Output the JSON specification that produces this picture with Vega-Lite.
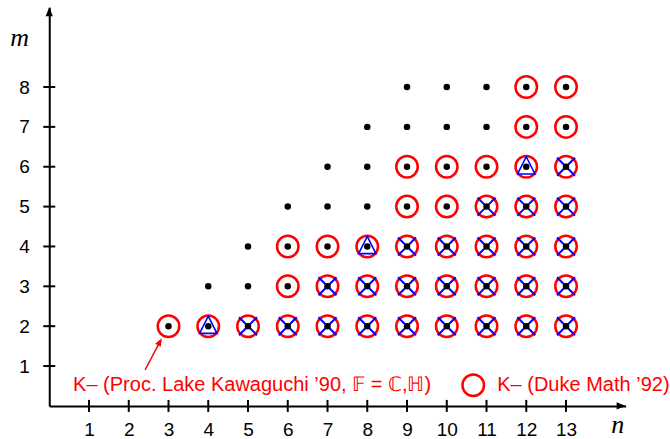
{
  "$schema": "https://vega.github.io/schema/vega-lite/v6.json",
  "autosize": {"type": "none"},
  "padding": {"left": 49.25, "top": 7.3, "right": 44.35, "bottom": 33.1},
  "width": 576.4,
  "height": 398.6,
  "config": {
    "view": {"stroke": null},
    "font": "Liberation Sans",
    "axis": {
      "grid": false,
      "ticks": false,
      "domainColor": "#000000",
      "domainWidth": 2,
      "labelFont": "Liberation Sans",
      "labelFontSize": 19,
      "labelColor": "#000000",
      "titleFont": "Liberation Serif",
      "titleFontStyle": "italic",
      "titleFontWeight": "normal",
      "titleFontSize": 26,
      "titleColor": "#000000"
    }
  },
  "datasets": {
    "dots": [
      {"n": 3, "m": 2},
      {"n": 4, "m": 2}, {"n": 4, "m": 3},
      {"n": 5, "m": 2}, {"n": 5, "m": 3}, {"n": 5, "m": 4},
      {"n": 6, "m": 2}, {"n": 6, "m": 3}, {"n": 6, "m": 4}, {"n": 6, "m": 5},
      {"n": 7, "m": 2}, {"n": 7, "m": 3}, {"n": 7, "m": 4}, {"n": 7, "m": 5}, {"n": 7, "m": 6},
      {"n": 8, "m": 2}, {"n": 8, "m": 3}, {"n": 8, "m": 4}, {"n": 8, "m": 5}, {"n": 8, "m": 6}, {"n": 8, "m": 7},
      {"n": 9, "m": 2}, {"n": 9, "m": 3}, {"n": 9, "m": 4}, {"n": 9, "m": 5}, {"n": 9, "m": 6}, {"n": 9, "m": 7}, {"n": 9, "m": 8},
      {"n": 10, "m": 2}, {"n": 10, "m": 3}, {"n": 10, "m": 4}, {"n": 10, "m": 5}, {"n": 10, "m": 6}, {"n": 10, "m": 7}, {"n": 10, "m": 8},
      {"n": 11, "m": 2}, {"n": 11, "m": 3}, {"n": 11, "m": 4}, {"n": 11, "m": 5}, {"n": 11, "m": 6}, {"n": 11, "m": 7}, {"n": 11, "m": 8},
      {"n": 12, "m": 2}, {"n": 12, "m": 3}, {"n": 12, "m": 4}, {"n": 12, "m": 5}, {"n": 12, "m": 6}, {"n": 12, "m": 7}, {"n": 12, "m": 8},
      {"n": 13, "m": 2}, {"n": 13, "m": 3}, {"n": 13, "m": 4}, {"n": 13, "m": 5}, {"n": 13, "m": 6}, {"n": 13, "m": 7}, {"n": 13, "m": 8}
    ],
    "circles": [
      {"n": 3, "m": 2}, {"n": 4, "m": 2}, {"n": 5, "m": 2},
      {"n": 6, "m": 2}, {"n": 6, "m": 3}, {"n": 6, "m": 4},
      {"n": 7, "m": 2}, {"n": 7, "m": 3}, {"n": 7, "m": 4},
      {"n": 8, "m": 2}, {"n": 8, "m": 3}, {"n": 8, "m": 4},
      {"n": 9, "m": 2}, {"n": 9, "m": 3}, {"n": 9, "m": 4}, {"n": 9, "m": 5}, {"n": 9, "m": 6},
      {"n": 10, "m": 2}, {"n": 10, "m": 3}, {"n": 10, "m": 4}, {"n": 10, "m": 5}, {"n": 10, "m": 6},
      {"n": 11, "m": 2}, {"n": 11, "m": 3}, {"n": 11, "m": 4}, {"n": 11, "m": 5}, {"n": 11, "m": 6},
      {"n": 12, "m": 2}, {"n": 12, "m": 3}, {"n": 12, "m": 4}, {"n": 12, "m": 5}, {"n": 12, "m": 6}, {"n": 12, "m": 7}, {"n": 12, "m": 8},
      {"n": 13, "m": 2}, {"n": 13, "m": 3}, {"n": 13, "m": 4}, {"n": 13, "m": 5}, {"n": 13, "m": 6}, {"n": 13, "m": 7}, {"n": 13, "m": 8}
    ],
    "crosses": [
      {"n": 5, "m": 2}, {"n": 6, "m": 2},
      {"n": 7, "m": 2}, {"n": 7, "m": 3},
      {"n": 8, "m": 2}, {"n": 8, "m": 3},
      {"n": 9, "m": 2}, {"n": 9, "m": 3}, {"n": 9, "m": 4},
      {"n": 10, "m": 2}, {"n": 10, "m": 3}, {"n": 10, "m": 4},
      {"n": 11, "m": 2}, {"n": 11, "m": 3}, {"n": 11, "m": 4}, {"n": 11, "m": 5},
      {"n": 12, "m": 2}, {"n": 12, "m": 3}, {"n": 12, "m": 4}, {"n": 12, "m": 5},
      {"n": 13, "m": 2}, {"n": 13, "m": 3}, {"n": 13, "m": 4}, {"n": 13, "m": 5}, {"n": 13, "m": 6}
    ],
    "triangles": [
      {"n": 4, "m": 2}, {"n": 8, "m": 4}, {"n": 12, "m": 6}
    ],
    "xticks": [
      {"v": 1}, {"v": 2}, {"v": 3}, {"v": 4}, {"v": 5}, {"v": 6}, {"v": 7},
      {"v": 8}, {"v": 9}, {"v": 10}, {"v": 11}, {"v": 12}, {"v": 13}
    ],
    "yticks": [
      {"v": 1}, {"v": 2}, {"v": 3}, {"v": 4}, {"v": 5}, {"v": 6}, {"v": 7}, {"v": 8}
    ],
    "note": [
      {"n": 0.6, "m": 0.52, "label": "K– (Proc. Lake Kawaguchi ’90, 𝔽 = ℂ,ℍ)"}
    ],
    "arrow": [
      {"n": 2.41, "m": 0.9, "n2": 2.8, "m2": 1.64}
    ],
    "arrowhead": [
      {"n": 2.83, "m": 1.7}
    ],
    "xend": [{"n": 14.5, "m": 0}],
    "yend": [{"n": 0, "m": 10}]
  },
  "layer": [
    {
      "data": {"name": "circles"},
      "mark": {"type": "point", "shape": "circle", "filled": false, "size": 462, "strokeWidth": 2.5, "opacity": 1},
      "encoding": {
        "x": {
          "field": "n", "type": "quantitative",
          "scale": {"domain": [0, 14.5], "nice": false, "zero": false},
          "axis": {
            "values": [1, 2, 3, 4, 5, 6, 7, 8, 9, 10, 11, 12, 13],
            "labelPadding": 15,
            "title": "n",
            "titleX": 568,
            "titleY": 19,
            "titleAlign": "center",
            "titleBaseline": "middle"
          }
        },
        "y": {
          "field": "m", "type": "quantitative",
          "scale": {"domain": [0, 10], "nice": false, "zero": false},
          "axis": {
            "values": [1, 2, 3, 4, 5, 6, 7, 8],
            "labelPadding": 20,
            "title": "m",
            "titleAngle": 0,
            "titleX": -30,
            "titleY": 30,
            "titleAlign": "center",
            "titleBaseline": "middle"
          }
        },
        "stroke": {
          "datum": "K– (Duke Math ’92)",
          "type": "nominal",
          "scale": {"range": ["#ff0000"]},
          "legend": {
            "orient": "none",
            "legendX": 412,
            "legendY": 366,
            "title": null,
            "padding": 0,
            "symbolType": "circle",
            "symbolSize": 462,
            "symbolStrokeWidth": 2.5,
            "symbolFillColor": "transparent",
            "symbolStrokeColor": "#ff0000",
            "labelFont": "Liberation Sans",
            "labelFontSize": 20,
            "labelColor": "#ff0000",
            "labelOffset": 12,
            "labelLimit": 400
          }
        }
      }
    },
    {
      "data": {"name": "crosses"},
      "mark": {"type": "point", "shape": "M-1,-1L1,1M-1,1L1,-1", "filled": false, "size": 324, "strokeWidth": 2, "color": "#0000ff", "opacity": 1},
      "encoding": {
        "x": {"field": "n", "type": "quantitative"},
        "y": {"field": "m", "type": "quantitative"}
      }
    },
    {
      "data": {"name": "triangles"},
      "mark": {"type": "point", "shape": "M0,-1L0.87,0.72L-0.87,0.72Z", "filled": false, "size": 400, "strokeWidth": 1.6, "color": "#0000ff", "opacity": 1},
      "encoding": {
        "x": {"field": "n", "type": "quantitative"},
        "y": {"field": "m", "type": "quantitative"}
      }
    },
    {
      "data": {"name": "dots"},
      "mark": {"type": "point", "shape": "circle", "filled": true, "size": 42, "color": "#000000", "opacity": 1},
      "encoding": {
        "x": {"field": "n", "type": "quantitative"},
        "y": {"field": "m", "type": "quantitative"}
      }
    },
    {
      "data": {"name": "xticks"},
      "mark": {"type": "tick", "orient": "vertical", "size": 12, "thickness": 2, "color": "#000000", "opacity": 1},
      "encoding": {
        "x": {"field": "v", "type": "quantitative"},
        "y": {"datum": 0, "type": "quantitative"}
      }
    },
    {
      "data": {"name": "yticks"},
      "mark": {"type": "tick", "orient": "horizontal", "size": 12, "thickness": 2, "color": "#000000", "opacity": 1},
      "encoding": {
        "x": {"datum": 0, "type": "quantitative"},
        "y": {"field": "v", "type": "quantitative"}
      }
    },
    {
      "data": {"name": "xend"},
      "mark": {"type": "point", "shape": "M0,0L-1,-0.4L-1,0.4Z", "filled": true, "size": 324, "color": "#000000", "opacity": 1},
      "encoding": {
        "x": {"field": "n", "type": "quantitative"},
        "y": {"field": "m", "type": "quantitative"}
      }
    },
    {
      "data": {"name": "yend"},
      "mark": {"type": "point", "shape": "M0,0L-0.4,1L0.4,1Z", "filled": true, "size": 324, "color": "#000000", "opacity": 1},
      "encoding": {
        "x": {"field": "n", "type": "quantitative"},
        "y": {"field": "m", "type": "quantitative"}
      }
    },
    {
      "data": {"name": "note"},
      "mark": {"type": "text", "align": "left", "baseline": "middle", "font": "Liberation Sans", "fontSize": 20, "color": "#ff0000"},
      "encoding": {
        "x": {"field": "n", "type": "quantitative"},
        "y": {"field": "m", "type": "quantitative"},
        "text": {"field": "label"}
      }
    },
    {
      "data": {"name": "arrow"},
      "mark": {"type": "rule", "color": "#ff0000", "strokeWidth": 1.5},
      "encoding": {
        "x": {"field": "n", "type": "quantitative"},
        "y": {"field": "m", "type": "quantitative"},
        "x2": {"field": "n2"},
        "y2": {"field": "m2"}
      }
    },
    {
      "data": {"name": "arrowhead"},
      "mark": {"type": "point", "shape": "M0,0L-0.4,1L0.4,1Z", "filled": true, "size": 256, "angle": 28, "color": "#ff0000", "opacity": 1},
      "encoding": {
        "x": {"field": "n", "type": "quantitative"},
        "y": {"field": "m", "type": "quantitative"}
      }
    }
  ]
}
